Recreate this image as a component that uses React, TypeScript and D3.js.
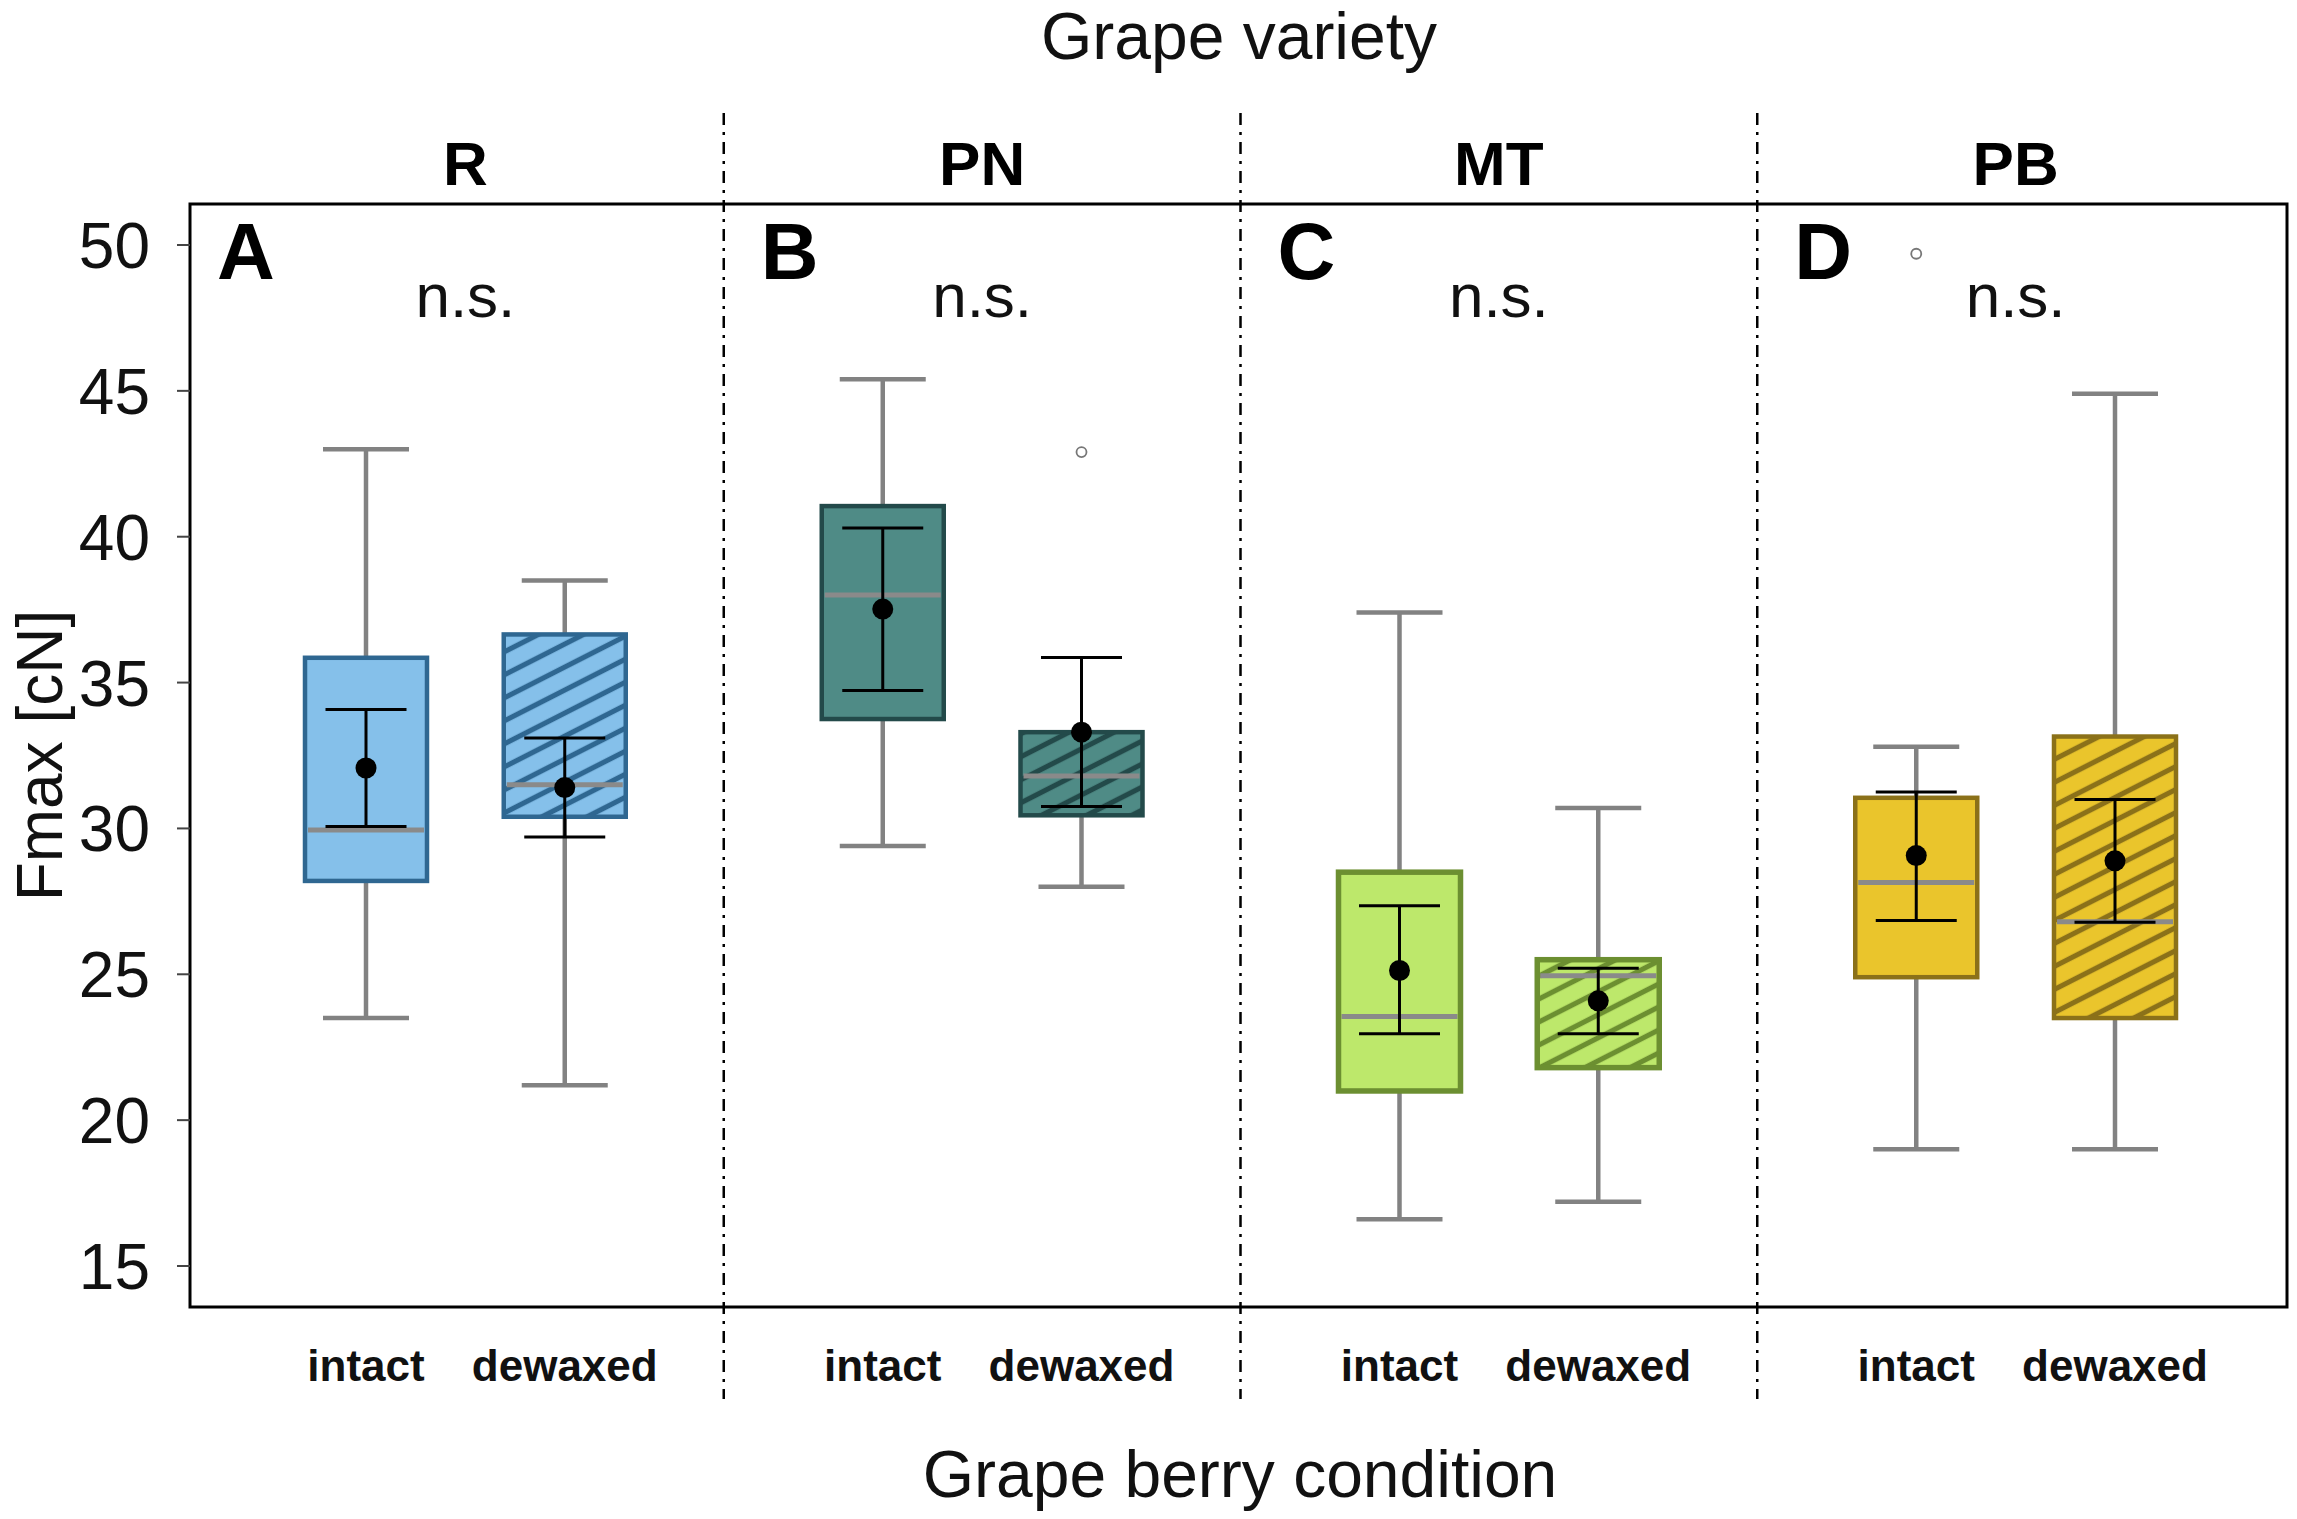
import * as d3 from "d3";

const WIDTH = 2297;
const HEIGHT = 1519;

// Data
const varieties = ["R", "PN", "MT", "PB"];
const panelLetters = ["A", "B", "C", "D"];
const conditions = ["intact", "dewaxed"];
const fillColors = ["#85c0ea", "#4f8b86", "#bde86b", "#eac52c"];
const strokeColors = ["#2f6791", "#234a4a", "#6c8f31", "#8b7119"];
const signif = ["n.s.", "n.s.", "n.s.", "n.s."];

const whiskerLow = [[23.5, 21.2], [29.4, 28.0], [16.6, 17.2], [19.0, 19.0]];
const q1 = [[28.2, 30.4], [33.75, 30.45], [21.0, 21.8], [24.9, 23.5]];
const median = [[29.95, 31.5], [38.0, 31.8], [23.55, 24.95], [28.15, 26.8]];
const q3 = [[35.85, 36.65], [41.05, 33.3], [28.5, 25.5], [31.05, 33.15]];
const whiskerHigh = [[43.0, 38.5], [45.4, 33.3], [37.4, 30.7], [32.8, 44.9]];
const outliers = [[[], []], [[], [42.9]], [[], []], [[49.7], []]];

const means = [[32.07, 31.4], [37.52, 33.3], [25.13, 24.09], [29.07, 28.89]];
const errLow = [[30.07, 29.71], [34.73, 30.75], [22.96, 22.96], [26.84, 26.78]];
const errHigh = [[34.08, 33.1], [40.3, 35.86], [27.35, 25.21], [31.25, 30.99]];

const yTicks = [15, 20, 25, 30, 35, 40, 45, 50];

const FONT = "'Liberation Sans', Arial, Helvetica, sans-serif";

export default function App() {
    // Scales
    const yScale = d3.scaleLinear().domain([15, 50]).range([1266, 245]);
    const xPanel = d3.scaleBand().domain(varieties).range([207, 2274]).paddingInner(0);
    const bw = xPanel.bandwidth();
    const xCond = d3.scalePoint().domain(conditions).range([0, bw]).padding(0.8);

    const frame = { left: 190, right: 2287, top: 204, bottom: 1307 };
    const boxW = 122;
    const capW = 86;
    const errCapW = 81;

    const boxes = varieties.map((v, i) => {
        const x0 = xPanel(v) as number;
        return conditions.map((c, j) => {
            const cx = x0 + (xCond(c) as number);
            const yQ1 = yScale(q1[i][j]);
            const yQ3 = yScale(q3[i][j]);
            return (
                <g key={v + c}>
                    {/* whiskers */}
                    <g stroke="#828282" strokeWidth={4.5}>
                        <line x1={cx} x2={cx} y1={yScale(whiskerHigh[i][j])} y2={yQ3} />
                        <line x1={cx} x2={cx} y1={yQ1} y2={yScale(whiskerLow[i][j])} />
                        <line x1={cx - capW / 2} x2={cx + capW / 2} y1={yScale(whiskerHigh[i][j])} y2={yScale(whiskerHigh[i][j])} />
                        <line x1={cx - capW / 2} x2={cx + capW / 2} y1={yScale(whiskerLow[i][j])} y2={yScale(whiskerLow[i][j])} />
                    </g>
                    {outliers[i][j].map((o, k) => (
                        <circle key={k} cx={cx} cy={yScale(o)} r={5} fill="white" stroke="#777" strokeWidth={1.8} />
                    ))}
                    {/* box */}
                    <rect x={cx - boxW / 2} y={yQ3} width={boxW} height={yQ1 - yQ3} fill={fillColors[i]} />
                    {c === "dewaxed" && (
                        <rect x={cx - boxW / 2} y={yQ3} width={boxW} height={yQ1 - yQ3} fill={`url(#hatch-${i})`} />
                    )}
                    <line x1={cx - boxW / 2 + 3} x2={cx + boxW / 2 - 3} y1={yScale(median[i][j])} y2={yScale(median[i][j])}
                          stroke="#8a8a8a" strokeWidth={5} />
                    <rect x={cx - boxW / 2} y={yQ3} width={boxW} height={yQ1 - yQ3} fill="none"
                          stroke={strokeColors[i]} strokeWidth={i === 2 ? 5.5 : 4.5} />
                    {/* mean and error bar */}
                    <g stroke="black" strokeWidth={3}>
                        <line x1={cx} x2={cx} y1={yScale(errHigh[i][j])} y2={yScale(errLow[i][j])} />
                        <line x1={cx - errCapW / 2} x2={cx + errCapW / 2} y1={yScale(errHigh[i][j])} y2={yScale(errHigh[i][j])} />
                        <line x1={cx - errCapW / 2} x2={cx + errCapW / 2} y1={yScale(errLow[i][j])} y2={yScale(errLow[i][j])} />
                    </g>
                    <circle cx={cx} cy={yScale(means[i][j])} r={10.5} fill="black" />
                </g>
            );
        });
    });

    return (
        <div>
            <style>{`body{margin:0}`}</style>
            <svg width={WIDTH} height={HEIGHT} style={{ display: "block", background: "white" }} fontFamily={FONT}>
                <defs>
                    {strokeColors.map((s, i) => (
                        <pattern key={i} id={`hatch-${i}`} patternUnits="userSpaceOnUse" width={10} height={20.5}
                                 patternTransform="rotate(-27)">
                            <line x1={-1} x2={11} y1={10.25} y2={10.25} stroke={s} strokeWidth={5.2} />
                        </pattern>
                    ))}
                </defs>
                <rect width={WIDTH} height={HEIGHT} fill="white" />

                {/* panel dividers */}
                {varieties.slice(1).map((v) => (
                    <line key={v} x1={xPanel(v)} x2={xPanel(v)} y1={113} y2={1399}
                          stroke="black" strokeWidth={2.5} strokeDasharray="12 7 3 7" />
                ))}

                {/* frame */}
                <rect x={frame.left} y={frame.top} width={frame.right - frame.left} height={frame.bottom - frame.top}
                      fill="none" stroke="black" strokeWidth={3} />

                {/* y axis */}
                {yTicks.map((t) => (
                    <g key={t}>
                        <line x1={177} x2={frame.left} y1={yScale(t)} y2={yScale(t)} stroke="#444" strokeWidth={2} />
                        <text x={150} y={yScale(t)} dy="0.36em" textAnchor="end" fontSize={64} fill="#111">{t}</text>
                    </g>
                ))}
                <text transform={`translate(62, ${(frame.top + frame.bottom) / 2}) rotate(-90)`} textAnchor="middle"
                      fontSize={64} fill="#111">Fmax [cN]</text>

                {/* titles */}
                <text x={1239} y={59} textAnchor="middle" fontSize={66} fill="#111">Grape variety</text>
                <text x={1240} y={1497} textAnchor="middle" fontSize={66} fill="#111">Grape berry condition</text>

                {varieties.map((v, i) => {
                    const x0 = xPanel(v) as number;
                    return (
                        <g key={v}>
                            <text x={x0 + bw / 2} y={185} textAnchor="middle" fontSize={62} fontWeight="bold">{v}</text>
                            <text x={i === 0 ? frame.left + 27 : x0 + 37} y={279} fontSize={80} fontWeight="bold">{panelLetters[i]}</text>
                            <text x={x0 + bw / 2} y={317} textAnchor="middle" fontSize={62} fill="#111">{signif[i]}</text>
                            {conditions.map((c) => (
                                <text key={c} x={x0 + (xCond(c) as number)} y={1381} textAnchor="middle" fontSize={44}
                                      fontWeight="bold" fill="#111">{c}</text>
                            ))}
                        </g>
                    );
                })}

                {boxes}
            </svg>
        </div>
    );
}
